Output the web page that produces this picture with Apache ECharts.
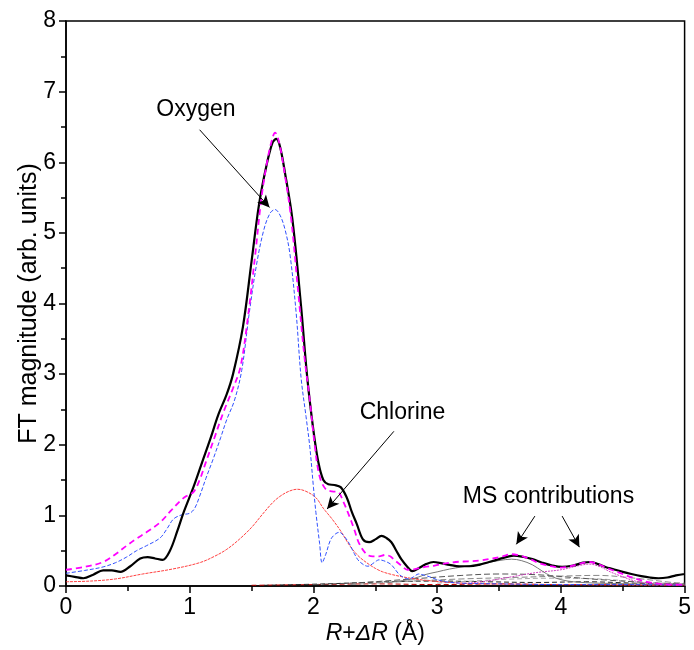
<!DOCTYPE html>
<html><head><meta charset="utf-8">
<script src="https://cdn.jsdelivr.net/npm/echarts@6/dist/echarts.min.js"></script>
<style>html,body{margin:0;padding:0;background:#fff}#c{width:694px;height:650px}</style>
</head><body><div id="c"></div>
<script>
const xTicks = [0,1,2,3,4,5];
const yTicks = [0,1,2,3,4,5,6,7,8];
const experiment = [[0,0.15],[0.07,0.13],[0.14,0.11],[0.22,0.16],[0.3,0.22],[0.37,0.22],[0.44,0.2],[0.52,0.28],[0.6,0.39],[0.66,0.41],[0.72,0.39],[0.78,0.37],[0.84,0.5],[0.9,0.78],[0.95,1.04],[1.03,1.4],[1.1,1.75],[1.17,2.1],[1.23,2.42],[1.3,2.72],[1.35,3.0],[1.43,3.67],[1.5,4.6],[1.56,5.4],[1.62,5.95],[1.67,6.28],[1.70,6.33],[1.73,6.22],[1.77,5.85],[1.83,5.19],[1.90,3.96],[1.95,2.95],[2.0,2.2],[2.04,1.75],[2.08,1.5],[2.12,1.44],[2.17,1.43],[2.22,1.4],[2.27,1.25],[2.31,1.05],[2.35,0.88],[2.40,0.66],[2.45,0.62],[2.5,0.66],[2.55,0.71],[2.59,0.68],[2.63,0.62],[2.67,0.5],[2.71,0.38],[2.76,0.27],[2.80,0.21],[2.85,0.25],[2.91,0.31],[2.97,0.34],[3.04,0.32],[3.1,0.3],[3.18,0.28],[3.26,0.28],[3.34,0.3],[3.42,0.34],[3.5,0.38],[3.58,0.42],[3.62,0.43],[3.7,0.41],[3.77,0.38],[3.85,0.33],[3.93,0.29],[4.01,0.27],[4.1,0.29],[4.18,0.33],[4.24,0.34],[4.3,0.31],[4.36,0.27],[4.42,0.24],[4.5,0.2],[4.57,0.17],[4.65,0.14],[4.72,0.12],[4.79,0.11],[4.86,0.12],[4.93,0.15],[5.0,0.17]];
const bestFit = [[0,0.23],[0.15,0.27],[0.3,0.34],[0.4,0.45],[0.49,0.57],[0.57,0.67],[0.65,0.76],[0.76,0.9],[0.85,1.07],[0.92,1.2],[0.97,1.27],[1.03,1.33],[1.08,1.5],[1.13,1.75],[1.2,2.1],[1.27,2.45],[1.35,2.8],[1.41,3.1],[1.47,3.8],[1.53,4.7],[1.58,5.5],[1.63,6.05],[1.67,6.35],[1.69,6.42],[1.72,6.3],[1.76,5.92],[1.82,5.2],[1.88,4.1],[1.93,3.2],[1.97,2.64],[2.01,2.0],[2.05,1.55],[2.1,1.37],[2.15,1.34],[2.2,1.33],[2.24,1.2],[2.29,0.99],[2.33,0.8],[2.37,0.6],[2.43,0.45],[2.48,0.42],[2.53,0.42],[2.58,0.44],[2.62,0.42],[2.66,0.36],[2.71,0.29],[2.76,0.23],[2.82,0.24],[2.9,0.27],[2.98,0.29],[3.07,0.32],[3.15,0.34],[3.25,0.35],[3.34,0.36],[3.45,0.39],[3.53,0.42],[3.6,0.45],[3.67,0.43],[3.75,0.38],[3.83,0.32],[3.92,0.28],[4.0,0.26],[4.08,0.28],[4.16,0.32],[4.23,0.34],[4.3,0.31],[4.38,0.25],[4.47,0.19],[4.56,0.13],[4.65,0.08],[4.72,0.05],[4.8,0.03],[4.9,0.02],[5.0,0.02]];
const oxygen = [[0,0.18],[0.15,0.22],[0.3,0.27],[0.4,0.33],[0.49,0.41],[0.57,0.5],[0.65,0.57],[0.76,0.68],[0.82,0.82],[0.87,0.95],[0.94,1.01],[1.0,1.03],[1.04,1.1],[1.08,1.27],[1.13,1.52],[1.19,1.8],[1.25,2.1],[1.3,2.36],[1.36,2.62],[1.42,3.05],[1.48,3.85],[1.54,4.55],[1.6,5.05],[1.65,5.28],[1.69,5.33],[1.73,5.25],[1.77,5.05],[1.81,4.7],[1.86,3.87],[1.9,2.95],[1.94,2.4],[1.97,1.98],[2.0,1.4],[2.02,1.04],[2.05,0.6],[2.07,0.33],[2.1,0.45],[2.14,0.66],[2.18,0.74],[2.21,0.76],[2.25,0.7],[2.29,0.6],[2.33,0.46],[2.37,0.35],[2.44,0.28],[2.49,0.33],[2.53,0.37],[2.58,0.35],[2.63,0.3],[2.69,0.17],[2.73,0.12],[2.77,0.1],[2.81,0.13],[2.85,0.17],[2.9,0.15],[2.94,0.13],[3.0,0.09],[3.07,0.06],[3.2,0.04],[3.5,0.03],[4.0,0.02],[4.5,0.02],[5.0,0.01]];
const chlorine = [[0,0.06],[0.2,0.07],[0.4,0.1],[0.62,0.17],[0.86,0.24],[1.08,0.33],[1.2,0.42],[1.3,0.52],[1.4,0.66],[1.5,0.83],[1.59,1.02],[1.67,1.18],[1.73,1.27],[1.8,1.34],[1.87,1.37],[1.94,1.34],[2.02,1.25],[2.08,1.1],[2.15,0.95],[2.22,0.78],[2.29,0.58],[2.36,0.43],[2.43,0.33],[2.5,0.25],[2.56,0.2],[2.64,0.16],[2.72,0.13],[2.82,0.1],[2.91,0.08],[3.1,0.05],[3.4,0.03],[4.0,0.02],[5.0,0.01]];
const ms1 = [[2.6,0.05],[2.8,0.1],[2.9,0.16],[3.0,0.2],[3.1,0.24],[3.2,0.27],[3.3,0.3],[3.4,0.33],[3.5,0.36],[3.6,0.38],[3.68,0.36],[3.77,0.3],[3.85,0.21],[3.92,0.14],[4.0,0.09],[4.1,0.06],[4.3,0.04],[5.0,0.02]];
const ms2 = [[3.2,0.03],[3.4,0.07],[3.6,0.13],[3.8,0.19],[4.0,0.23],[4.15,0.29],[4.23,0.31],[4.32,0.27],[4.4,0.2],[4.5,0.13],[4.6,0.07],[4.7,0.04],[5.0,0.02]];
const ms3 = [[2.0,0.02],[2.4,0.05],[2.8,0.1],[3.2,0.15],[3.5,0.17],[3.8,0.16],[4.1,0.12],[4.4,0.08],[4.8,0.04],[5.0,0.03]];
const ms4 = [[2.3,0.02],[2.8,0.07],[3.2,0.1],[3.6,0.12],[4.0,0.14],[4.3,0.15],[4.6,0.11],[4.9,0.05],[5.0,0.04]];
const ms5 = [[1.6,0.01],[2.1,0.03],[2.6,0.06],[3.0,0.07],[3.4,0.06],[3.8,0.05],[4.2,0.06],[4.6,0.04],[5.0,0.02]];
const ms6 = [[1.5,0.01],[2.0,0.02],[2.5,0.03],[3.0,0.02],[3.5,0.03],[4.0,0.02],[4.5,0.02],[5.0,0.01]];
const ms7 = [[3.0,0.04],[3.5,0.09],[3.9,0.11],[4.3,0.1],[4.7,0.05],[5.0,0.03]];
const labels = [
  {text:'Oxygen', at:[1.05,6.74], from:[1.08,6.46], to:[1.645,5.36]},
  {text:'Chlorine', at:[2.72,2.46], from:[2.65,2.19], to:[2.11,1.09]},
  {text:'MS contributions', at:[3.9,1.27], from:[3.79,0.99], to:[3.64,0.59]},
  {text:'', at:null, from:[4.01,0.99], to:[4.15,0.55]}
];

const FONT = 'Liberation Sans, Arial, sans-serif';
const chart = echarts.init(document.getElementById('c'), null, {renderer:'canvas'});
function comp(name, data, color, type, width){
  return {name, type:'line', data, showSymbol:false, smooth:0.35, z:2,
    lineStyle:{color, width:width||1, type:type||'solid'}, itemStyle:{color}};
}
const series = [
  comp('ms6', ms6, '#c00000', [5,3]),
  comp('ms5', ms5, '#222', [5,3]),
  comp('ms7', ms7, '#aaa', [5,3]),
  comp('ms4', ms4, '#888', [6,3]),
  comp('ms3', ms3, '#555', [6,3]),
  comp('ms2', ms2, '#d040c0', [2,1]),
  comp('ms1', ms1, '#777', 'solid'),
  comp('chlorine', chlorine, '#ff4040', [3,1]),
  comp('oxygen', oxygen, '#3050ff', [4,2]),
  {name:'Experiment', type:'line', data:experiment, showSymbol:false, smooth:0.35, z:3,
   lineStyle:{color:'#000', width:2.2}, itemStyle:{color:'#000'},
   markLine:{silent:true, symbol:['none','arrow'], symbolSize:[9,12], animation:false,
     lineStyle:{color:'#000', width:1, type:'solid'}, label:{show:false},
     data: labels.map(l=>[{coord:l.from},{coord:l.to}])},
   markPoint:{silent:true, animation:false,
     data: labels.filter(l=>l.at).map(l=>({coord:l.at, symbol:'circle', symbolSize:1, itemStyle:{color:'rgba(0,0,0,0)'},
       label:{show:true, position:'inside', formatter:l.text, color:'#000', fontSize:23, fontFamily:FONT}}))}
  },
  {name:'Best fit EXAFS model', type:'line', data:bestFit, showSymbol:false, smooth:0.35, z:4,
   lineStyle:{color:'#ff00ff', width:1.8, type:[6,4]}, itemStyle:{color:'#ff00ff'}}
];
chart.setOption({
  animation:false,
  backgroundColor:'#fff',
  grid:{left:66, right:8, top:21, bottom:63, show:true, borderColor:'#000', borderWidth:1.5, backgroundColor:'transparent'},
  legend:{data:['Experiment','Best fit EXAFS model'], orient:'vertical', left:424, top:44, itemWidth:56, itemHeight:10, itemGap:13,
    textStyle:{fontSize:16, fontFamily:FONT, color:'#000'}, icon:'path://M0,5L56,5', selectedMode:false},
  xAxis:{type:'value', min:0, max:5, interval:1,
    axisLine:{show:true, lineStyle:{color:'#000', width:1.5}},
    axisTick:{show:true, inside:false, length:7, lineStyle:{color:'#000', width:1.5}},
    minorTick:{show:true, splitNumber:2, length:5, lineStyle:{color:'#000', width:1.5}},
    splitLine:{show:false},
    axisLabel:{fontSize:23, fontFamily:FONT, color:'#000', margin:10, formatter:v=>xTicks.includes(v)?String(v):''},
    name:'{i|R}+{i|ΔR} (Å)', nameLocation:'middle', nameGap:36, nameMoveOverlap:false,
    nameTextStyle:{fontSize:23, fontFamily:FONT, color:'#000', rich:{i:{fontStyle:'italic', fontSize:23, fontFamily:FONT, color:'#000'}}}},
  yAxis:{type:'value', min:0, max:8, interval:1,
    axisLine:{show:true, lineStyle:{color:'#000', width:1.5}},
    axisTick:{show:true, inside:false, length:7, lineStyle:{color:'#000', width:1.5}},
    minorTick:{show:true, splitNumber:2, length:5, lineStyle:{color:'#000', width:1.5}},
    splitLine:{show:false},
    axisLabel:{fontSize:23, fontFamily:FONT, color:'#000', margin:10, formatter:v=>yTicks.includes(v)?String(v):''},
    name:'FT magnitude (arb. units)', nameLocation:'middle', nameGap:24, nameMoveOverlap:false,
    nameTextStyle:{fontSize:25, fontFamily:FONT, color:'#000'}},
  series
});
</script></body></html>
